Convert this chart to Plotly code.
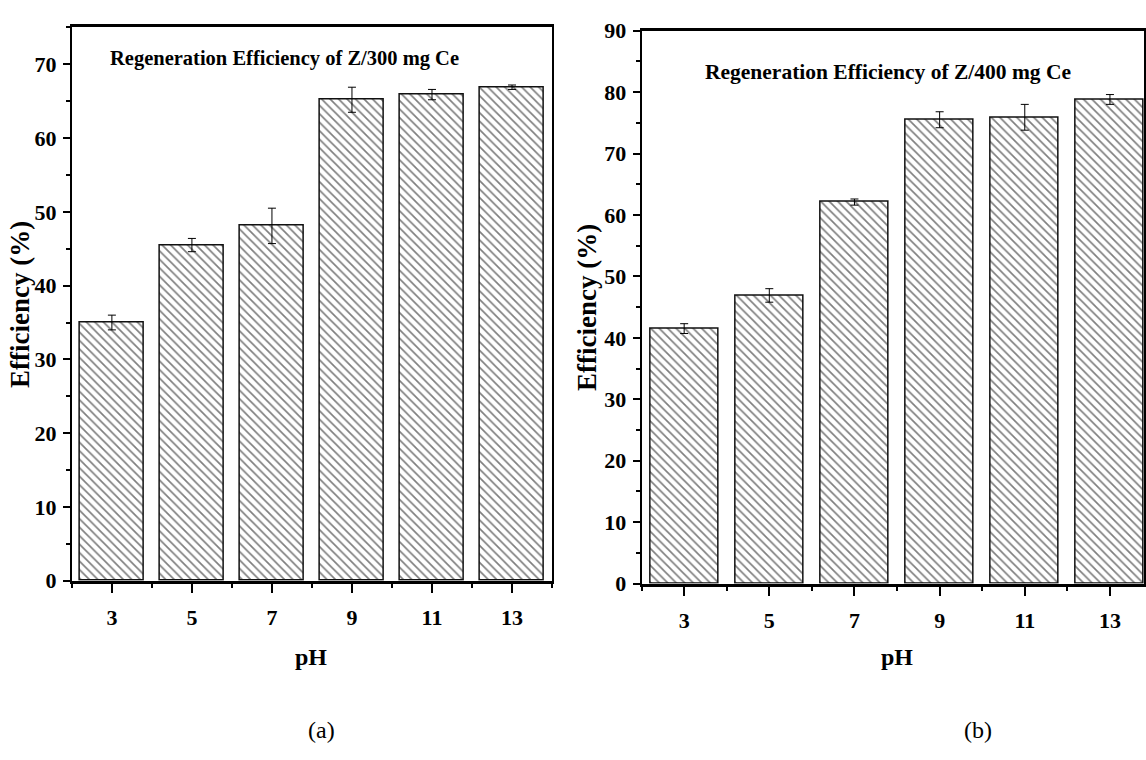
import plotly.graph_objects as go

# ---- data ----
ph = [3, 5, 7, 9, 11, 13]
eff_300 = [35.0, 45.5, 48.1, 65.2, 65.9, 66.9]
err_300 = [1.0, 0.9, 2.4, 1.7, 0.7, 0.3]
eff_400 = [41.5, 46.9, 62.1, 75.5, 75.9, 78.8]
err_400 = [0.8, 1.1, 0.5, 1.3, 2.1, 0.8]

title_a = "Regeneration Efficiency of Z/300 mg Ce"
title_b = "Regeneration Efficiency of Z/400 mg Ce"

W, H = 1146, 760
FONT = "Liberation Serif"


def px(x):
    return x / W


def py(y):
    return 1 - y / H


def bar_trace(y, err, xa, ya):
    return go.Bar(
        x=ph, y=y, width=1.6, xaxis=xa, yaxis=ya, showlegend=False,
        marker=dict(color="white",
                    line=dict(color="#111111", width=1.5),
                    pattern=dict(shape="\\", fgcolor="black", bgcolor="white",
                                 size=6, solidity=0.28)),
        error_y=dict(type="data", array=err, color="black", thickness=1, width=4),
    )


fig = go.Figure()
fig.add_trace(bar_trace(eff_300, err_300, "x", "y"))
fig.add_trace(bar_trace(eff_400, err_400, "x2", "y2"))

tickfont = dict(family=FONT, size=22, color="black", weight="bold")


def xaxis(domain, rng, anchor):
    return dict(domain=domain, range=rng, anchor=anchor,
                tickmode="linear", tick0=1, dtick=2,
                ticks="outside", ticklen=10, tickwidth=2, tickcolor="black",
                minor=dict(tick0=0, dtick=2, ticks="outside", ticklen=5,
                           tickwidth=2, tickcolor="black"),
                showline=True, linewidth=2.5, linecolor="black", mirror=True,
                showgrid=False, zeroline=False, tickfont=tickfont, ticklabelstandoff=5)


def yaxis(domain, rng, anchor):
    return dict(domain=domain, range=rng, anchor=anchor,
                tickmode="linear", tick0=0, dtick=10,
                ticks="outside", ticklen=7, tickwidth=2, tickcolor="black",
                minor=dict(tick0=0, dtick=5, ticks="outside", ticklen=4,
                           tickwidth=2, tickcolor="black"),
                showline=True, linewidth=2, linecolor="black", mirror=True,
                showgrid=False, zeroline=False, tickfont=tickfont, ticklabelstandoff=2)


fig.update_layout(
    width=W, height=H, autosize=False,
    margin=dict(l=0, r=0, t=0, b=0),
    paper_bgcolor="white", plot_bgcolor="white",
    xaxis=xaxis([px(72), px(553)], [2, 14], "y"),
    yaxis=yaxis([py(588), py(16)], [0, 75], "x"),
    xaxis2=xaxis([px(642.7), 1.0], [2, 13.8], "y2"),
    yaxis2=yaxis([py(591), py(19.3)], [0, 90], "x2"),
    bargap=0,
)

ann = []


def txt(text, x, y, size, bold=True, angle=0):
    ann.append(dict(text=text, x=px(x), y=py(y), xref="paper", yref="paper",
                    showarrow=False, xanchor="center", yanchor="middle", textangle=angle,
                    font=dict(family=FONT, size=size, color="black",
                              weight="bold" if bold else "normal")))


txt(title_a, 285, 48, 20.5)
txt(title_b, 890, 62, 21.5)
txt("pH", 312, 667, 24)
txt("pH", 899, 667, 24)
txt("(a)", 322, 742, 24, bold=False)
txt("(b)", 980, 742, 24, bold=False)
txt("Efficiency (%)", 20, 302, 27, angle=-90)
txt("Efficiency (%)", 588, 305, 27, angle=-90)

fig.update_layout(annotations=ann)

fig.write_html("out.html")
